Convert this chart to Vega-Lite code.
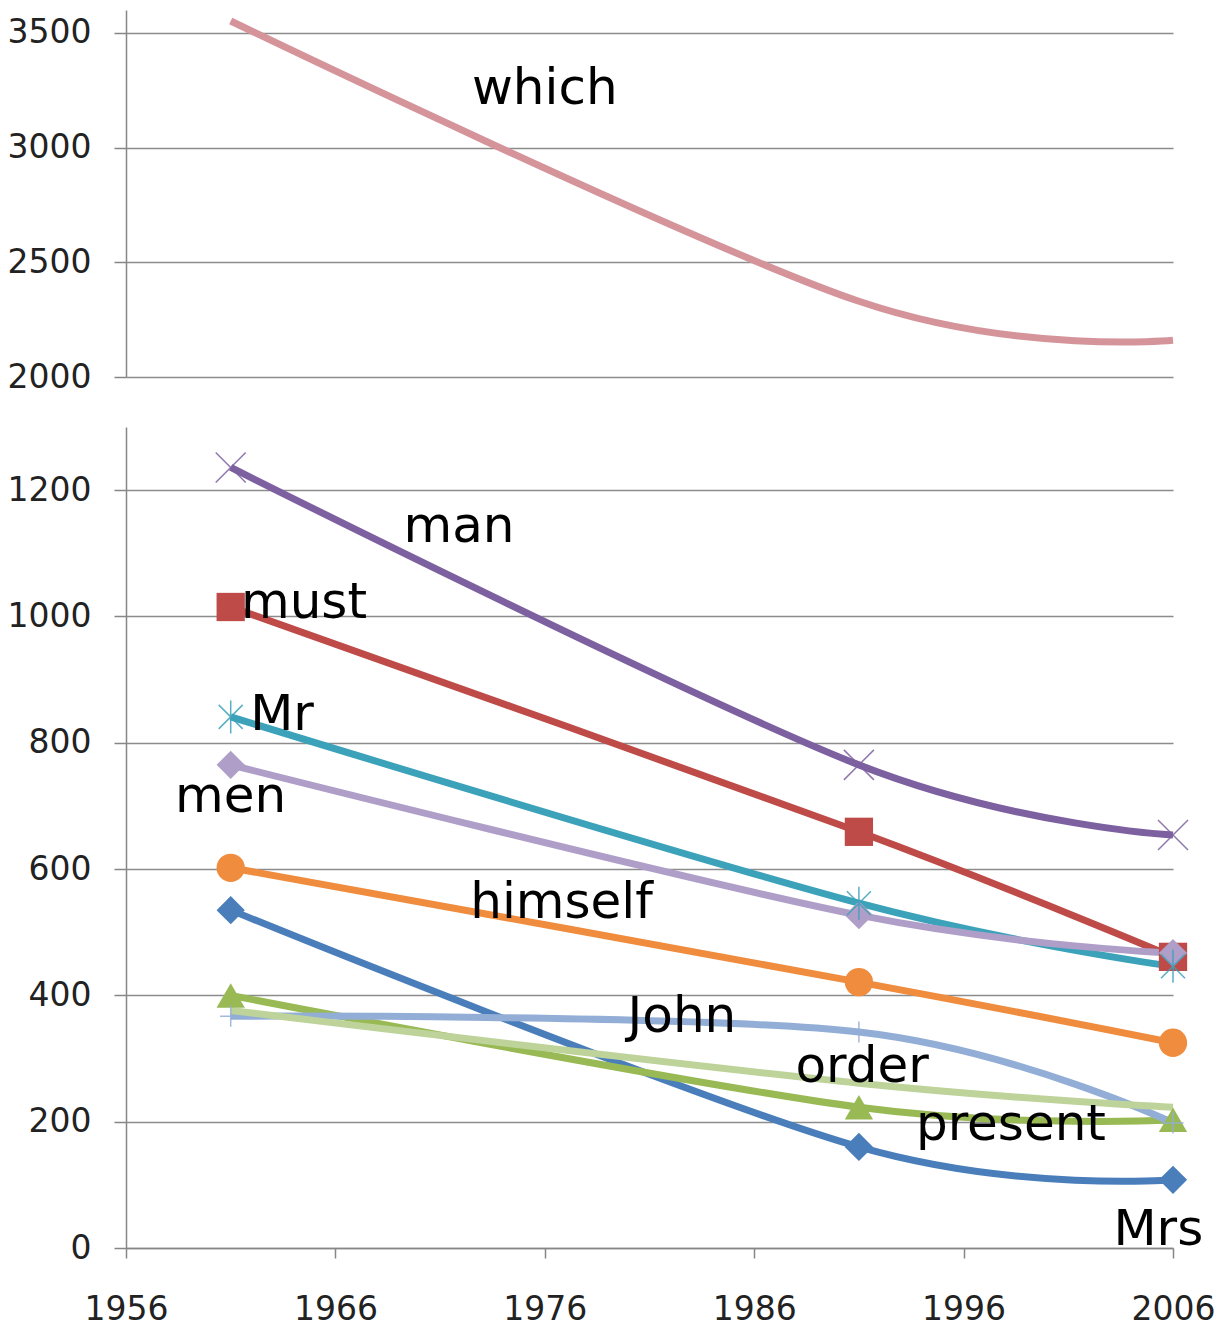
{
  "$schema": "https://vega.github.io/schema/vega-lite/v6.json",
  "background": "white",
  "padding": {"left": 7, "top": 7, "right": 0, "bottom": 0},
  "spacing": 33,
  "datasets": {
    "which": [
      {"word": "which", "year": 1961, "value": 3552},
      {"word": "which", "year": 1991, "value": 2330},
      {"word": "which", "year": 2006, "value": 2160}
    ],
    "toplabel": [
      {"word": "which", "x": 1976.0, "y": 3191}
    ],
    "freq": [
      {"word": "Mrs", "year": 1961, "value": 535},
      {"word": "Mrs", "year": 1991, "value": 160},
      {"word": "Mrs", "year": 2006, "value": 108},
      {"word": "must", "year": 1961, "value": 1015},
      {"word": "must", "year": 1991, "value": 659},
      {"word": "must", "year": 2006, "value": 461},
      {"word": "present", "year": 1961, "value": 400},
      {"word": "present", "year": 1991, "value": 223},
      {"word": "present", "year": 2006, "value": 203},
      {"word": "man", "year": 1961, "value": 1236},
      {"word": "man", "year": 1991, "value": 765},
      {"word": "man", "year": 2006, "value": 654},
      {"word": "Mr", "year": 1961, "value": 841},
      {"word": "Mr", "year": 1991, "value": 546},
      {"word": "Mr", "year": 2006, "value": 446},
      {"word": "himself", "year": 1961, "value": 602},
      {"word": "himself", "year": 1991, "value": 421},
      {"word": "himself", "year": 2006, "value": 325},
      {"word": "John", "year": 1961, "value": 367},
      {"word": "John", "year": 1991, "value": 342},
      {"word": "John", "year": 2006, "value": 198},
      {"word": "order", "year": 1961, "value": 376},
      {"word": "order", "year": 1991, "value": 261},
      {"word": "order", "year": 2006, "value": 223},
      {"word": "men", "year": 1961, "value": 765},
      {"word": "men", "year": 1991, "value": 527},
      {"word": "men", "year": 2006, "value": 467}
    ],
    "labels": [
      {"word": "man", "x": 1971.9, "y": 1118},
      {"word": "must", "x": 1964.5, "y": 997},
      {"word": "Mr", "x": 1963.45, "y": 820},
      {"word": "men", "x": 1961.0, "y": 690},
      {"word": "himself", "x": 1976.8, "y": 522},
      {"word": "John", "x": 1982.55, "y": 342},
      {"word": "order", "x": 1991.15, "y": 263},
      {"word": "present", "x": 1998.26, "y": 171},
      {"word": "Mrs", "x": 2005.3, "y": 5}
    ]
  },
  "vconcat": [
    {
      "width": 1047,
      "height": 367,
      "layer": [
        {
          "data": {"name": "which"},
          "mark": {"type": "line", "interpolate": "cardinal", "strokeWidth": 7, "color": "#D4949A"},
          "encoding": {
            "x": {"field": "year", "type": "quantitative", "scale": {"domain": [1956, 2006], "nice": false, "zero": false}, "axis": null},
            "y": {"field": "value", "type": "quantitative", "scale": {"domain": [2000, 3600], "nice": false, "zero": false},
                  "axis": {"values": [2000, 2500, 3000, 3500], "format": "d", "title": null, "grid": true, "tickSize": 12, "labelPadding": 23}}
          }
        },
        {
          "data": {"name": "toplabel"},
          "mark": {"type": "text", "font": "DejaVu Sans", "fontSize": 50, "baseline": "alphabetic", "align": "center", "color": "#000000"},
          "encoding": {
            "x": {"field": "x", "type": "quantitative"},
            "y": {"field": "y", "type": "quantitative"},
            "text": {"field": "word"}
          }
        }
      ]
    },
    {
      "width": 1047,
      "height": 821,
      "data": {"name": "freq"},
      "encoding": {
        "x": {"field": "year", "type": "quantitative", "scale": {"domain": [1956, 2006], "nice": false, "zero": false},
              "axis": {"values": [1956, 1966, 1976, 1986, 1996, 2006], "format": "d", "title": null, "grid": false, "tickSize": 10, "labelPadding": 35, "labelOverlap": false, "labelFlush": false, "labelBound": false}},
        "y": {"field": "value", "type": "quantitative", "scale": {"domain": [0, 1300], "nice": false, "zero": false},
              "axis": {"values": [0, 200, 400, 600, 800, 1000, 1200], "format": "d", "title": null, "grid": true, "tickSize": 12, "labelPadding": 23}}
      },
      "layer": [
        {
          "mark": {"type": "line", "interpolate": "cardinal", "strokeWidth": 7},
          "encoding": {
            "color": {"field": "word", "type": "nominal", "legend": null,
                      "scale": {"domain": ["Mrs", "must", "present", "man", "Mr", "himself", "John", "order", "men"],
                                "range": ["#4A7EBB", "#BE4B48", "#98B954", "#7D60A0", "#3CA2BA", "#F08C3E", "#93AED6", "#BDD39A", "#AF9FC8"]}}
          }
        },
        {
          "transform": [{"filter": {"field": "word", "oneOf": ["Mrs", "must", "present", "himself", "men"]}}],
          "mark": {"type": "point", "filled": true, "size": 800, "opacity": 1},
          "encoding": {
            "color": {"field": "word", "type": "nominal", "legend": null},
            "shape": {"field": "word", "type": "nominal", "legend": null,
                      "scale": {"domain": ["Mrs", "must", "present", "himself", "men", "man", "Mr", "John"],
                                "range": ["diamond", "square", "triangle-up", "circle", "diamond", "M-1,-1L1,1M-1,1L1,-1", "M-0.8,-0.8L0.8,0.8M-0.8,0.8L0.8,-0.8M0,-1.1L0,1.1", "M-1,0L1,0M0,-1L0,1"]}}
          }
        },
        {
          "transform": [{"filter": {"field": "word", "oneOf": ["man", "Mr"]}}],
          "mark": {"type": "point", "filled": false, "size": 900, "strokeWidth": 1.5, "opacity": 0.85},
          "encoding": {
            "color": {"field": "word", "type": "nominal", "legend": null},
            "shape": {"field": "word", "type": "nominal", "legend": null}
          }
        },
        {
          "transform": [{"filter": {"field": "word", "equal": "John"}}],
          "mark": {"type": "point", "filled": false, "size": 450, "strokeWidth": 1.5, "opacity": 0.85},
          "encoding": {
            "color": {"field": "word", "type": "nominal", "legend": null},
            "shape": {"field": "word", "type": "nominal", "legend": null}
          }
        },
        {
          "data": {"name": "labels"},
          "mark": {"type": "text", "font": "DejaVu Sans", "fontSize": 50, "baseline": "alphabetic", "align": "center", "color": "#000000"},
          "encoding": {
            "x": {"field": "x", "type": "quantitative"},
            "y": {"field": "y", "type": "quantitative"},
            "text": {"field": "word"}
          }
        }
      ]
    }
  ],
  "config": {
    "view": {"stroke": null},
    "axis": {
      "domainColor": "#868686", "domainWidth": 1.5,
      "tickColor": "#868686", "tickWidth": 1.5,
      "gridColor": "#8c8c8c", "gridWidth": 1.5,
      "labelFont": "DejaVu Sans", "labelFontSize": 33, "labelColor": "#222222"
    }
  }
}
